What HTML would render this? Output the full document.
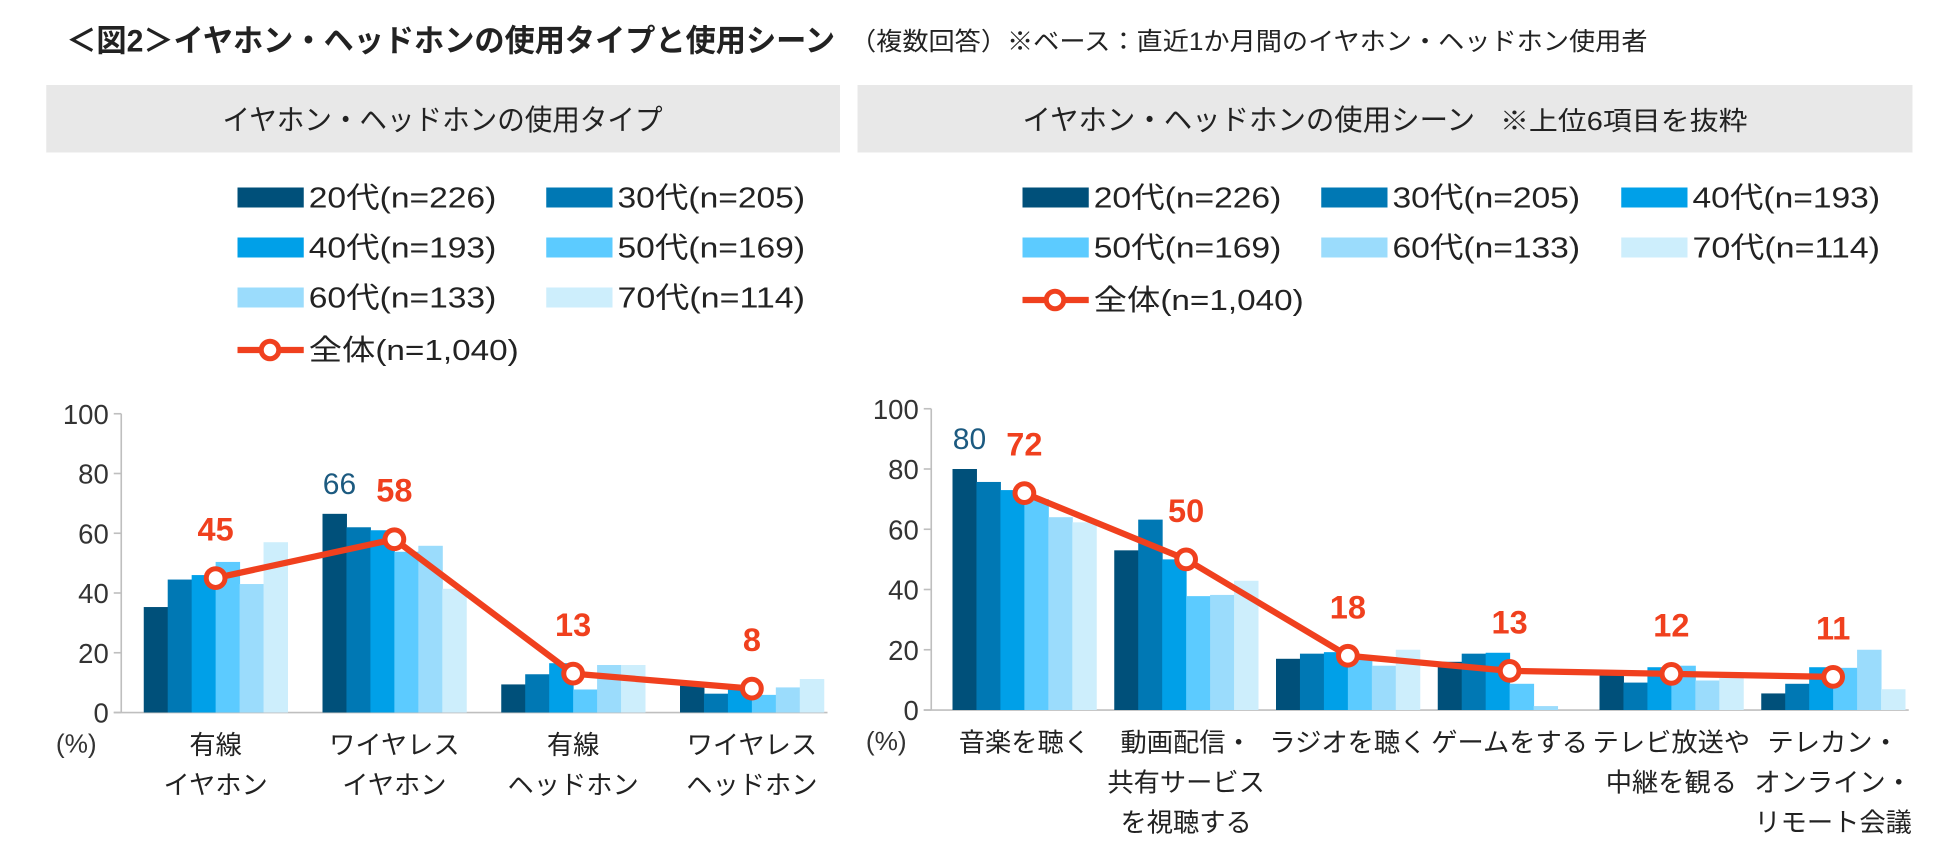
<!DOCTYPE html>
<html><head><meta charset="utf-8">
<style>
html,body{margin:0;padding:0;background:#fff;}
svg{display:block;font-family:"Liberation Sans","Noto Sans CJK JP",sans-serif;}
</style></head>
<body>
<svg id="chart" width="1950" height="865" viewBox="0 0 1560 692" xmlns="http://www.w3.org/2000/svg">
<rect x="0" y="0" width="1560" height="692" fill="#fff"/>
<text x="53" y="41" font-size="25" font-weight="bold" fill="#222" textLength="615" lengthAdjust="spacingAndGlyphs">＜図2＞イヤホン・ヘッドホンの使用タイプと使用シーン</text>
<text x="680" y="40" font-size="20" fill="#222" textLength="638" lengthAdjust="spacingAndGlyphs">（複数回答）※ベース：直近1か月間のイヤホン・ヘッドホン使用者</text>
<rect x="37" y="68" width="635" height="54" fill="#e8e8e8"/>
<text x="178" y="104" font-size="23" fill="#222" textLength="352" lengthAdjust="spacingAndGlyphs">イヤホン・ヘッドホンの使用タイプ</text>
<rect x="686" y="68" width="844" height="54" fill="#e8e8e8"/>
<text x="818" y="104" font-size="23" fill="#222" textLength="362" lengthAdjust="spacingAndGlyphs">イヤホン・ヘッドホンの使用シーン</text>
<text x="1200" y="104" font-size="21" fill="#222" textLength="198" lengthAdjust="spacingAndGlyphs">※上位6項目を抜粋</text>
<g id="layer"></g>
</svg>
<script>
const seriesNames = ["20代(n=226)","30代(n=205)","40代(n=193)","50代(n=169)","60代(n=133)","70代(n=114)"];
const totalName = "全体(n=1,040)";
const colors = ["#00507a","#0078b4","#00a0e8","#5ccbff","#9bdcfc","#cdeefc"];

const leftCategories = [["有線","イヤホン"],["ワイヤレス","イヤホン"],["有線","ヘッドホン"],["ワイヤレス","ヘッドホン"]];
const left20 = [35.3,66.5,9.4,9];
const left30 = [44.5,62,12.8,6.3];
const left40 = [46,61,16.5,8.6];
const left50 = [50.4,53.8,7.7,5.9];
const left60 = [43,55.8,15.9,8.4];
const left70 = [57,41.4,15.9,11.2];
const leftTotal = [45,58,13,8];
const leftHighlight = [null,"66",null,null];

const rightCategories = [["音楽を聴く"],["動画配信・","共有サービス","を視聴する"],["ラジオを聴く"],["ゲームをする"],["テレビ放送や","中継を観る"],["テレカン・","オンライン・","リモート会議"]];
const right20 = [80,53,17,16,11.7,5.5];
const right30 = [75.7,63.2,18.7,18.7,9.1,8.7];
const right40 = [73,50,19.2,19,14.2,14.2];
const right50 = [70,37.8,17.8,8.7,14.7,14];
const right60 = [64,38.2,14.7,1.3,9.8,20];
const right70 = [62.3,42.9,20,0,10.6,6.9];
const rightTotal = [72,50,18,13,12,11];
const rightHighlight = ["80",null,null,null,null,null];

const yTicks = [0,20,40,60,80,100];

const NS = "http://www.w3.org/2000/svg";
const layer = document.getElementById('layer');
function mk(tag, attrs, parent){
  const e = document.createElementNS(NS, tag);
  for (const k in attrs) e.setAttribute(k, attrs[k]);
  (parent||layer).appendChild(e);
  return e;
}

function drawChart(cfg){
  const g = mk('g', {});
  
  
  const y = v => cfg.y0 - (cfg.y0 - cfg.y100) * v / 100;
  const bw = cfg.groupW / 6;
  const xBar = (gi, si) => cfg.x0 + gi * cfg.step + si * bw;
  const xCenter = gi => cfg.x0 + gi * cfg.step + cfg.groupW / 2;
  const ax = mk('line', {x1:cfg.axisX, y1:cfg.y100, x2:cfg.axisX, y2:cfg.y0, stroke:'#bfbfbf', 'stroke-width':1.3}, g);
  
  
  const bx = mk('line', {x1:cfg.axisX-6, y1:cfg.y0, x2:cfg.axisEnd, y2:cfg.y0, stroke:'#bfbfbf', 'stroke-width':1.3}, g);
  
  
  yTicks.forEach(t => {
    mk('line', {x1:cfg.axisX-6, y1:y(t), x2:cfg.axisX, y2:y(t), stroke:'#bfbfbf', 'stroke-width':1.3}, g);
    const tx = mk('text', {x:cfg.axisX-10, y:y(t)+8, 'font-size':22, 'text-anchor':'end', fill:'#333'}, g);
    
    
    tx.textContent = t;
  });
  const pc = mk('text', {x:cfg.axisX-36, y:cfg.y0+32, 'font-size':21, 'text-anchor':'middle', fill:'#333'}, g);
  
  
  pc.textContent = '(%)';
  cfg.series.forEach((arr, si) => {
    arr.forEach((v, gi) => {
      const r = mk('rect', {x:xBar(gi, si), y:y(v), width:bw+0.4, height:cfg.y0 - y(v), fill:colors[si]}, g);
      
      
    });
  });
  cfg.highlight.forEach((h, gi) => {
    if (!h) return;
    const t = mk('text', {x:xBar(gi,0)+bw/2+4, y:y(cfg.series[0][gi])-16, 'font-size':24, 'text-anchor':'middle', fill:'#1c5a80'}, g);
    
    
    t.textContent = h;
  });
  const pts = cfg.total.map((v, gi) => xCenter(gi) + ',' + y(v)).join(' ');
  const pl = mk('polyline', {points:pts, fill:'none', stroke:'#f0401e', 'stroke-width':5, 'stroke-linejoin':'round'}, g);
  
  
  cfg.total.forEach((v, gi) => {
    const c = mk('circle', {cx:xCenter(gi), cy:y(v), r:7.5, fill:'#fff', stroke:'#f0401e', 'stroke-width':4}, g);
    
    
    const t = mk('text', {x:xCenter(gi), y:y(v)-30, 'font-size':26, 'font-weight':'bold', 'text-anchor':'middle', fill:'#f0401e'}, g);
    
    
    t.textContent = v;
  });
  cfg.categories.forEach((lines, gi) => {
    lines.forEach((ln, li) => {
      const t = mk('text', {x:xCenter(gi), y:cfg.y0+33+li*32, 'font-size':21, 'text-anchor':'middle', fill:'#222'}, g);
      
      
      t.textContent = ln;
    });
  });
}

function drawLegend(items, positions, name){
  const g = mk('g', {});
  
  
  items.forEach((it, i) => {
    const [px, py] = positions[i];
    const e = mk('g', {}, g);
    
    
    if (it.line) {
      mk('line', {x1:px, y1:py, x2:px+53, y2:py, stroke:'#f0401e', 'stroke-width':5}, e);
      mk('circle', {cx:px+26, cy:py, r:7, fill:'#fff', stroke:'#f0401e', 'stroke-width':4}, e);
    } else {
      mk('rect', {x:px, y:py-8, width:53, height:16, fill:it.color}, e);
    }
    const t = mk('text', {x:px+57, y:py+8, 'font-size':23, fill:'#222', textLength: it.line ? 168 : 150, lengthAdjust:'spacingAndGlyphs'}, e);
    t.textContent = it.label;
  });
}

drawChart({name:'left-chart', axisX:97, axisEnd:662, y0:570, y100:331, x0:115, step:143, groupW:115,
  series:[left20,left30,left40,left50,left60,left70], total:leftTotal, highlight:leftHighlight, categories:leftCategories});
drawChart({name:'right-chart', axisX:745, axisEnd:1527, y0:568, y100:327, x0:762, step:129.4, groupW:115,
  series:[right20,right30,right40,right50,right60,right70], total:rightTotal, highlight:rightHighlight, categories:rightCategories});

const legendItems = seriesNames.map((n,i)=>({label:n,color:colors[i]})).concat([{label:totalName,line:true}]);
drawLegend(legendItems, [[190,158],[437,158],[190,198],[437,198],[190,238],[437,238],[190,280]], 'left-legend');
drawLegend(legendItems, [[818,158],[1057,158],[1297,158],[818,198],[1057,198],[1297,198],[818,240]], 'right-legend');
</script>
</body></html>
